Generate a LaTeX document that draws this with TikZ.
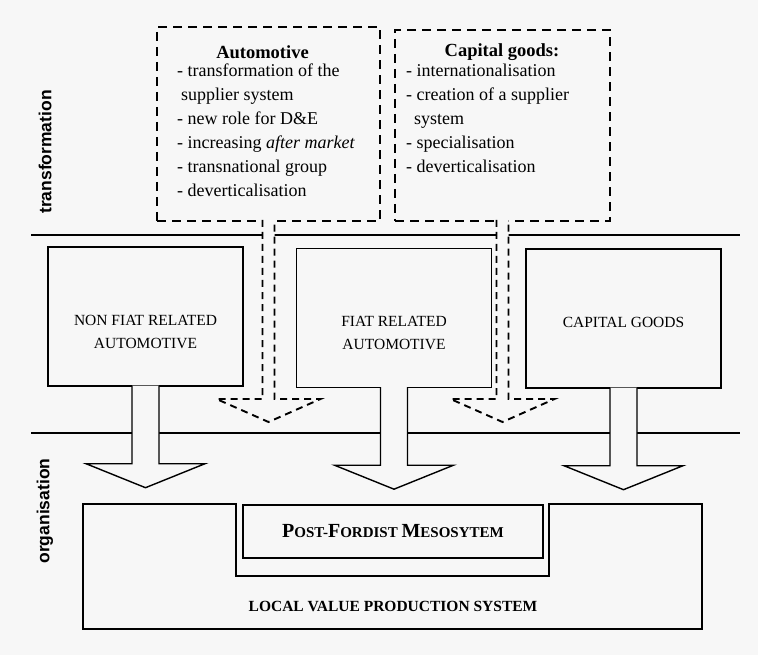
\documentclass[tikz,border=0pt]{standalone}
\usepackage{fontspec}
\setmainfont{Liberation Serif}
\newfontfamily\sidefont{Liberation Sans}
\colorlet{paper}{black!3}
\newcommand\initcap[1]{{\fontsize{20}{20}\selectfont #1}}

\tikzset{
  sector/.style={draw, line width=1.4pt, minimum width=195pt, minimum height=139pt},
  sectortext/.style={align=center, font=\fontsize{15.5}{23}\selectfont},
  trend/.style={draw, line width=2pt, dash pattern=on 9pt off 6pt},
  trendhead/.style={font=\fontsize{18.5}{24}\selectfont\bfseries},
  trendtext/.style={align=left, anchor=north west, inner sep=0pt, font=\fontsize{18}{24}\selectfont},
  sidelabel/.style={rotate=90, font=\sidefont\fontsize{17.5}{20}\selectfont\bfseries},
  systext/.style={font=\fontsize{15.5}{18}\selectfont\bfseries},
  bigarrow/.style={draw, line width=1.4pt, fill=paper, line join=miter},
  dasharrow/.style={draw, line width=1.9pt, dash pattern=on 7pt off 5pt, fill=paper},
  divider/.style={line width=1.3pt},
}

\begin{document}
\begin{tikzpicture}
    \def\x{1pt}
    \def\y{-1pt}
    \fill[paper] (0,0) rectangle (758*\x,655*\y);
    \useasboundingbox (0,0) rectangle (758*\x,655*\y);
    % levels
    \draw[divider] (31*\x,235*\y) -- (740*\x,235*\y);
    \draw[divider] (31*\x,433*\y) -- (740*\x,433*\y);
    \node[sidelabel] (L0) at (45*\x,152*\y) {transformation};
    \node[sidelabel] (L1) at (45*\x,511*\y) {organisation};
    % transformation boxes
    \node[trend, minimum width=223pt, minimum height=194pt] (A0_0) at (268.5*\x,124*\y) {};
    \node[trend, minimum width=215pt, minimum height=191pt] (A0_1) at (502.5*\x,125.5*\y) {};
    \node[trendhead] (H0_0) at (262.5*\x,52*\y) {Automotive};
    \node[trendtext] (B0_0) at (177*\x,64*\y) {- transformation of the\\
      \hspace*{4pt}supplier system\\
      - new role for D\&E\\
      - increasing \textit{after market}\\
      - transnational group\\
      - deverticalisation};
    \node[trendhead] (H0_1) at (502*\x,52*\y) {Capital goods:};
    \node[trendtext] (B0_1) at (406*\x,64*\y) {- internationalisation\\
      - creation of a supplier\\
      \hspace*{8pt}system\\
      - specialisation\\
      - deverticalisation};
    % sectors
    \node[sector] (A1_0) at (145.5*\x,316.5*\y) {};
    \node[sector] (A1_1) at (394*\x,318*\y) {};
    \node[sector] (A1_2) at (623.5*\x,318.5*\y) {};
    \node[sectortext] (T1_0) at ([yshift=-15pt]A1_0.center) {NON FIAT RELATED\\AUTOMOTIVE};
    \node[sectortext] (T1_1) at ([yshift=-15.5pt]A1_1.center) {FIAT RELATED\\AUTOMOTIVE};
    \node[sectortext] (T1_2) at ([yshift=-3.5pt]A1_2.center) {CAPITAL GOODS};
    % dashed arrows
    \draw[dasharrow] ([xshift=-6pt,yshift=2pt]A0_0.south) -- ++(0,179*\y) -- ++(-46*\x,0)
      -- ++(52*\x,23*\y) -- ++(52*\x,-23*\y) -- ++(-46*\x,0) -- ++(0,-179*\y);
    \draw[dasharrow] ([xshift=-6pt,yshift=2pt]A0_1.south) -- ++(0,179*\y) -- ++(-46*\x,0)
      -- ++(52*\x,23*\y) -- ++(52*\x,-23*\y) -- ++(-46*\x,0) -- ++(0,-179*\y);
    % block arrows
    \draw[bigarrow] ([xshift=-13.5pt,yshift=1pt]A1_0.south) -- ++(0,78*\y) -- ++(-46*\x,0)
      -- ++(59.5*\x,24*\y) -- ++(59.5*\x,-24*\y) -- ++(-46*\x,0) -- ++(0,-78*\y);
    \draw[bigarrow] ([xshift=-13.5pt,yshift=1pt]A1_1.south) -- ++(0,78*\y) -- ++(-46*\x,0)
      -- ++(59.5*\x,24*\y) -- ++(59.5*\x,-24*\y) -- ++(-46*\x,0) -- ++(0,-78*\y);
    \draw[bigarrow] ([xshift=-13.5pt,yshift=1pt]A1_2.south) -- ++(0,78*\y) -- ++(-46*\x,0)
      -- ++(59.5*\x,24*\y) -- ++(59.5*\x,-24*\y) -- ++(-46*\x,0) -- ++(0,-78*\y);
    % organisation
    \draw[line width=1.4pt] (83*\x,504*\y) -- (236*\x,504*\y) -- (236*\x,576*\y) -- (549*\x,576*\y)
      -- (549*\x,504*\y) -- (702*\x,504*\y) -- (702*\x,629*\y) -- (83*\x,629*\y) -- cycle;
    \node[draw, line width=1.4pt, minimum width=300pt, minimum height=53pt, font=\fontsize{15}{18}\selectfont\bfseries]
      (A2_0) at (393*\x,531.5*\y) {\initcap{P}OST-\initcap{F}ORDIST \initcap{M}ESOSYTEM};
    \node[systext] (A2_1) at (393*\x,606*\y) {LOCAL VALUE PRODUCTION SYSTEM};
\end{tikzpicture}
\end{document}
